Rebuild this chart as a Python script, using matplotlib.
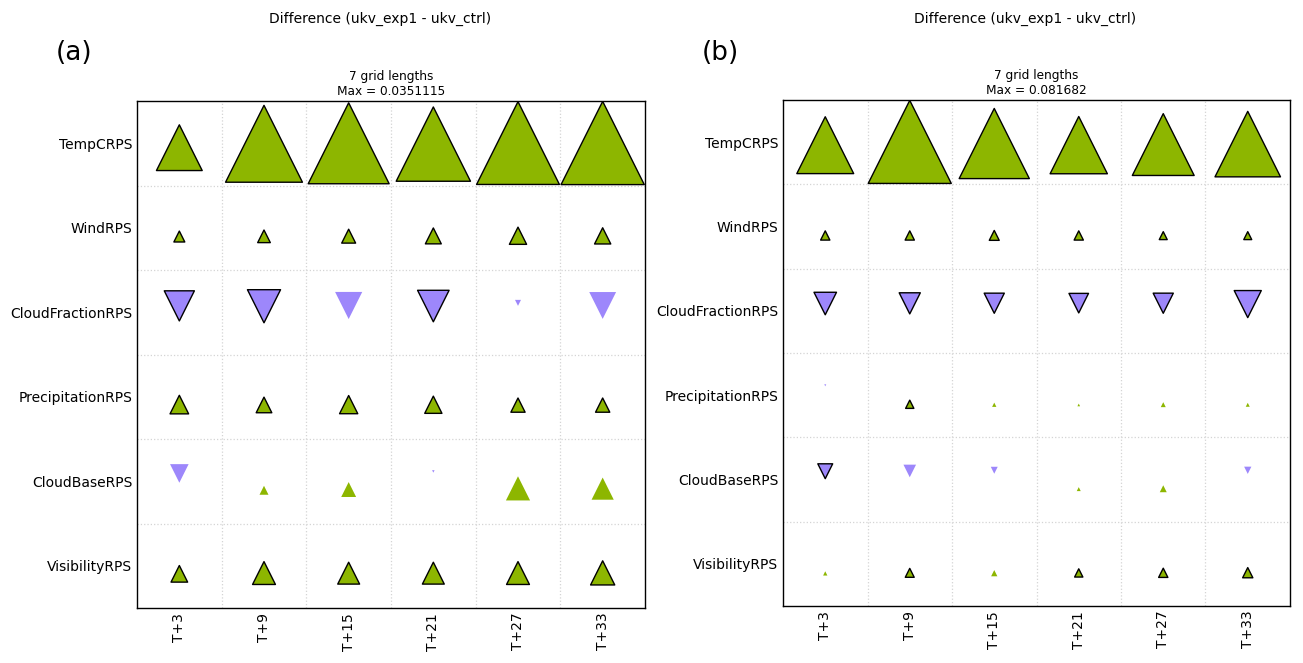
import numpy as np
import matplotlib
matplotlib.use("Agg")
import matplotlib.pyplot as plt
from matplotlib.path import Path

# ---------------- data ----------------
scores = ["TempCRPS", "WindRPS", "CloudFractionRPS", "PrecipitationRPS",
          "CloudBaseRPS", "VisibilityRPS"]
lead_times = ["T+3", "T+9", "T+15", "T+21", "T+27", "T+33"]

max_a = 0.0351115
diff_a = [
    [0.01930, 0.03243, 0.03415, 0.03134, 0.03494, 0.0351115],
    [0.00461, 0.00533, 0.00587, 0.00671, 0.00726, 0.00684],
    [-0.01271, -0.01397, -0.01145, -0.01330, -0.00252, -0.01133],
    [0.00784, 0.00659, 0.00768, 0.00726, 0.00600, 0.00600],
    [-0.00784, 0.00378, 0.00629, -0.00105, 0.01019, 0.00935],
    [0.00701, 0.00965, 0.00923, 0.00923, 0.00965, 0.01019],
]
sig_a = [
    [1, 1, 1, 1, 1, 1],
    [1, 1, 1, 1, 1, 1],
    [1, 1, 0, 1, 0, 0],
    [1, 1, 1, 1, 1, 1],
    [0, 0, 0, 0, 0, 0],
    [1, 1, 1, 1, 1, 1],
]

max_b = 0.081682
diff_b = [
    [0.05592, 0.081682, 0.06900, 0.05631, 0.06080, 0.06441],
    [0.00908, 0.00908, 0.00976, 0.00908, 0.00781, 0.00781],
    [-0.02215, -0.02079, -0.01981, -0.01923, -0.01981, -0.02664],
    [-0.00195, 0.00810, 0.00420, 0.00263, 0.00488, 0.00390],
    [-0.01464, -0.01239, -0.00683, 0.00390, 0.00683, -0.00712],
    [0.00420, 0.00878, 0.00615, 0.00810, 0.00908, 0.01005],
]
sig_b = [
    [1, 1, 1, 1, 1, 1],
    [1, 1, 1, 1, 1, 1],
    [1, 1, 1, 1, 1, 1],
    [0, 1, 0, 0, 0, 0],
    [1, 0, 0, 0, 0, 0],
    [0, 1, 0, 1, 1, 1],
]

title_text = "Difference (ukv_exp1 - ukv_ctrl)"
grid_text = "7 grid lengths"

# ---------------- style ----------------
GREEN = "#8db600"
PURPLE = "#9d87fb"
W, H, DPI = 1303, 663, 100

# triangle marker anchored 3/8 of its height above the base
UP = Path([(0, 0.625), (-0.5, -0.375), (0.5, -0.375), (0, 0.625)],
          [Path.MOVETO, Path.LINETO, Path.LINETO, Path.CLOSEPOLY])
DOWN = Path([(0, -0.625), (-0.5, 0.375), (0.5, 0.375), (0, -0.625)],
            [Path.MOVETO, Path.LINETO, Path.LINETO, Path.CLOSEPOLY])
OFFSET = 0.12  # cell fraction

fig = plt.figure(figsize=(W / DPI, H / DPI), dpi=DPI)


def panel(rect, diff, sig, vmax, label, title_x):
    ax = fig.add_axes(rect)
    d = np.array(diff, dtype=float)
    s = np.array(sig, dtype=bool)
    nrow, ncol = d.shape
    cell_pt = rect[3] * H / DPI * 72 / nrow
    rows, cols = np.indices(d.shape)
    height_pt = cell_pt * 0.985 * np.abs(d) / vmax
    size = (height_pt / 0.8) ** 2
    lw = np.where(s, 1.0, 0.0)
    up = d > 0
    dn = d < 0
    ax.scatter(cols[up], rows[up] + OFFSET, s=size[up], marker=UP,
               facecolor=GREEN, edgecolors="black", linewidths=lw[up], zorder=3)
    ax.scatter(cols[dn], rows[dn] - OFFSET, s=size[dn], marker=DOWN,
               facecolor=PURPLE, edgecolors="black", linewidths=lw[dn], zorder=3)
    ax.set_xlim(-0.5, ncol - 0.5)
    ax.set_ylim(nrow - 0.5, -0.5)
    ax.set_xticks(range(ncol))
    ax.set_xticklabels(lead_times, rotation=90, fontsize=10)
    ax.set_yticks(range(nrow))
    ax.set_yticklabels(scores, fontsize=10)
    ax.set_xticks(np.arange(0.5, ncol - 0.5), minor=True)
    ax.set_yticks(np.arange(0.5, nrow - 0.5), minor=True)
    ax.tick_params(which="both", length=0, pad=3.5)
    ax.grid(which="minor", color="#d4d4d4", linestyle=":", linewidth=0.9)
    for sp in ax.spines.values():
        sp.set_linewidth(1.0)
        sp.set_color("black")
    ax.set_title(f"{grid_text}\nMax = {vmax:g}", fontsize=8.7, pad=4)
    fig.text(title_x, 1 - 19 / H, title_text, ha="center", va="center",
             fontsize=10)
    fig.text(rect[0] - 63 / W, 1 - 53 / H, label, ha="center", va="center",
             fontsize=19)
    return ax


panel([137 / W, 1 - 608 / H, 508 / W, 507 / H], diff_a, sig_a, max_a,
      "(a)", 380 / W)
panel([783 / W, 1 - 606 / H, 507 / W, 506 / H], diff_b, sig_b, max_b,
      "(b)", 1025 / W)

fig.savefig("out.png", dpi=DPI)
